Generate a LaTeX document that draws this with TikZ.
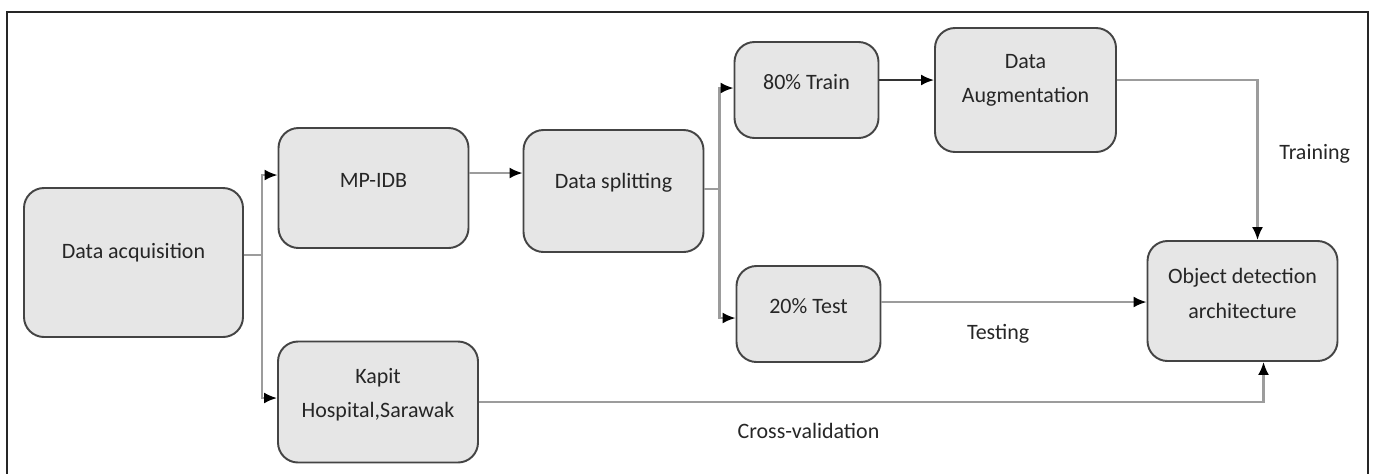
\documentclass[tikz,border=0pt]{standalone}
\usepackage{fontspec}
\setmainfont{Carlito}
\usepackage{tikz}
\usetikzlibrary{arrows.meta}

\definecolor{boxfill}{HTML}{E6E6E6}
\definecolor{boxline}{HTML}{444444}
\definecolor{wire}{HTML}{9C9C9C}

\begin{document}
\begin{tikzpicture}[node distance=4.8cm]
	\tikzstyle{box} = [rectangle, rounded corners=0.4cm, draw=boxline, 
	line width=1.1pt, fill=boxfill]
	\tikzstyle{txt} = [text=black!85, align=center, font=\fontsize{12.5}{19.5}\selectfont]
	\tikzstyle{lbl} = [text=black!85, font=\fontsize{12.5}{19.5}\selectfont]
	\tikzstyle{arrow} = [line width=1.2pt, draw=wire, 
	-{Latex[length=2.6mm, width=2.2mm, color=black]}]
	\useasboundingbox (0,0) rectangle (27.46,-9.46);
	\draw [line width=1.2pt, black!85] (0.14,-9.8) -- (0.14,-0.24) -- (27.36,-0.24) -- (27.36,-9.8);
	% boxes
	\node (acq) [box, minimum width=4.38cm, minimum height=2.98cm] at (2.67,-5.25) {};
	\node (mpidb) [box, minimum width=3.8cm, minimum height=2.4cm, right of=acq, yshift=1.49cm] {};
	\node (split) [box, minimum width=3.6cm, minimum height=2.44cm, right of=mpidb, yshift=-0.06cm] {};
	\node (train) [box, minimum width=2.88cm, minimum height=1.92cm, right of=split, xshift=-0.94cm, yshift=2.02cm] {};
	\node (test) [box, minimum width=2.88cm, minimum height=1.92cm, right of=split, xshift=-0.9cm, yshift=-2.46cm] {};
	\node (aug) [box, minimum width=3.62cm, minimum height=2.48cm, right of=train, xshift=-0.42cm] {};
	\node (obj) [box, minimum width=3.8cm, minimum height=2.4cm, right of=aug, xshift=-0.46cm, yshift=-4.22cm] {};
	\node (kapit) [box, minimum width=4cm, minimum height=2.42cm, below of=mpidb, xshift=0.09cm, yshift=0.52cm] {};
	% texts
	\node (acqTxt) [txt, above of=acq, node distance=0.19cm] {Data acquisition};
	\node (mpidbTxt) [txt, above of=mpidb, node distance=0.16cm] {MP-IDB};
	\node (splitTxt) [txt, above of=split, node distance=0.16cm] {Data splitting};
	\node (trainTxt) [txt, above of=train, node distance=0.16cm] {80\% Train};
	\node (testTxt) [txt, above of=test, node distance=0.16cm] {20\% Test};
	\node (augTxt) [txt, above of=aug, node distance=0.2cm] {Data\\Augmentation};
	\node (objTxt) [txt, above of=obj, node distance=0.15cm] {Object detection\\architecture};
	\node (kapitTxt) [txt, above of=kapit, node distance=0.14cm] {Kapit\\Hospital,Sarawak};
	% connectors
	\draw [arrow] ([yshift=0.15cm]acq.east) -- ++(0.36,0) |- ([yshift=0.26cm]mpidb.west);
	\draw [arrow] ([yshift=0.15cm]acq.east) -- ++(0.36,0) |- ([yshift=0.08cm]kapit.west);
	\draw [arrow] ([yshift=0.3cm]mpidb.east) -- ([yshift=0.3cm]mpidb.east -| split.west);
	\draw [arrow] ([yshift=0.04cm]split.east) -- ++(0.3,0) |- ([yshift=0.04cm]train.west);
	\draw [arrow] ([yshift=0.04cm]split.east) -- ++(0.3,0) |- ([yshift=-0.08cm]test.west);
	\draw [arrow, draw=black!80] ([yshift=0.2cm]train.east) -- ([yshift=0.2cm]train.east -| aug.west);
	\draw [arrow] ([yshift=0.2cm]aug.east) -| ([xshift=0.3cm]obj.north)
		node (trainLbl) [lbl, right, pos=0.73, xshift=0.3cm] {Training};
	\draw [arrow] ([yshift=0.24cm]test.east) -- ([yshift=0.24cm]test.east -| obj.west)
		node (testLbl) [lbl, below, pos=0.44, yshift=-0.3cm] {Testing};
	\draw [arrow] (kapit.east) -| ([xshift=0.42cm]obj.south)
		node (crossLbl) [lbl, below, pos=0.21, yshift=-0.28cm] {Cross-validation};
\end{tikzpicture}
\end{document}
